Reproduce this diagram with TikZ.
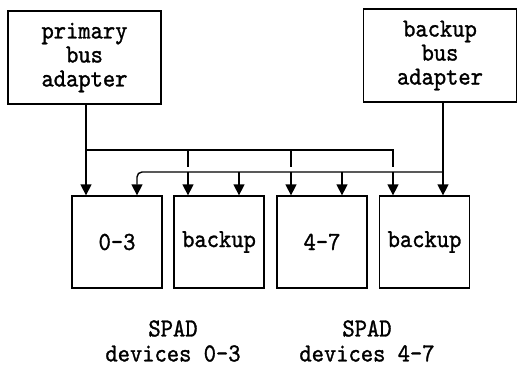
\documentclass[tikz,border=0pt]{standalone}
\usepackage{fontspec}
\newfontfamily\typer{lmmono10-regular}[Extension=.otf,FakeStretch=0.9,FakeBold=1.2]
\usetikzlibrary{arrows.meta}
\begin{document}
\begin{tikzpicture}[x=1pt,y=-1pt,
  wire/.style={line width=1.4pt},
  feed/.style={wire,-{Triangle[width=11pt,length=11pt]}},
  txt/.style={font=\typer\fontsize{26}{24}\selectfont,align=center},
  adapter/.style={txt,draw,line width=1.3pt,inner sep=0pt,minimum width=153pt,minimum height=93pt},
  spad/.style={txt,draw,line width=1.3pt,inner sep=0pt,minimum width=90pt,minimum height=92pt},
  caption/.style={font=\typer\fontsize{26}{25}\selectfont,align=center,inner sep=0pt}]
\useasboundingbox (0,0) rectangle (517,368);

% bus adapters
\node[adapter] (prim) at (84.5,57.5) {primary\\bus\\adapter};
\node[adapter] (back) at (440,55.5) {backup\\bus\\adapter};

% SPAD devices
\node[spad] (d1) at (117,242) {0\textendash3};
\node[spad] (d2) at (219,242) {backup};
\node[spad] (d3) at (322,242) {4\textendash7};
\node[spad] (d4) at (424.5,242) {backup};

% bus taps
\coordinate (pA) at (86,150);
\coordinate (pB) at (188,150);
\coordinate (pC) at (291,150);
\coordinate (pD) at (393,150);
\coordinate (bA) at (137,172);
\coordinate (bB) at (239,172);
\coordinate (bC) at (342,172);
\coordinate (bD) at (443,172);

% primary bus: the drops stop short of the backup bus they cross
\draw[feed] (prim.south -| pA) -- (d1.north -| pA);
\draw[wire] (pA) -- (pD) -- ([yshift=-17pt]pD);
\draw[wire] (pB) -- ([yshift=-17pt]pB);
\draw[wire] (pC) -- ([yshift=-17pt]pC);
\draw[feed] (bA -| pB) -- (d2.north -| pB);
\draw[feed] (bA -| pC) -- (d3.north -| pC);
\draw[feed] (bA -| pD) -- (d4.north -| pD);

% backup bus
\draw[feed] (back.south -| bD) -- (d4.north -| bD);
\draw[feed,rounded corners=5pt] (bD) -- (bA) -- (d1.north -| bA);
\draw[feed] (bB) -- (d2.north -| bB);
\draw[feed] (bC) -- (d3.north -| bC);

% captions
\node[caption] (c1) at (173,341) {SPAD\\devices 0\textendash3};
\node[caption] (c2) at (367,341) {SPAD\\devices 4\textendash7};
\end{tikzpicture}
\end{document}
